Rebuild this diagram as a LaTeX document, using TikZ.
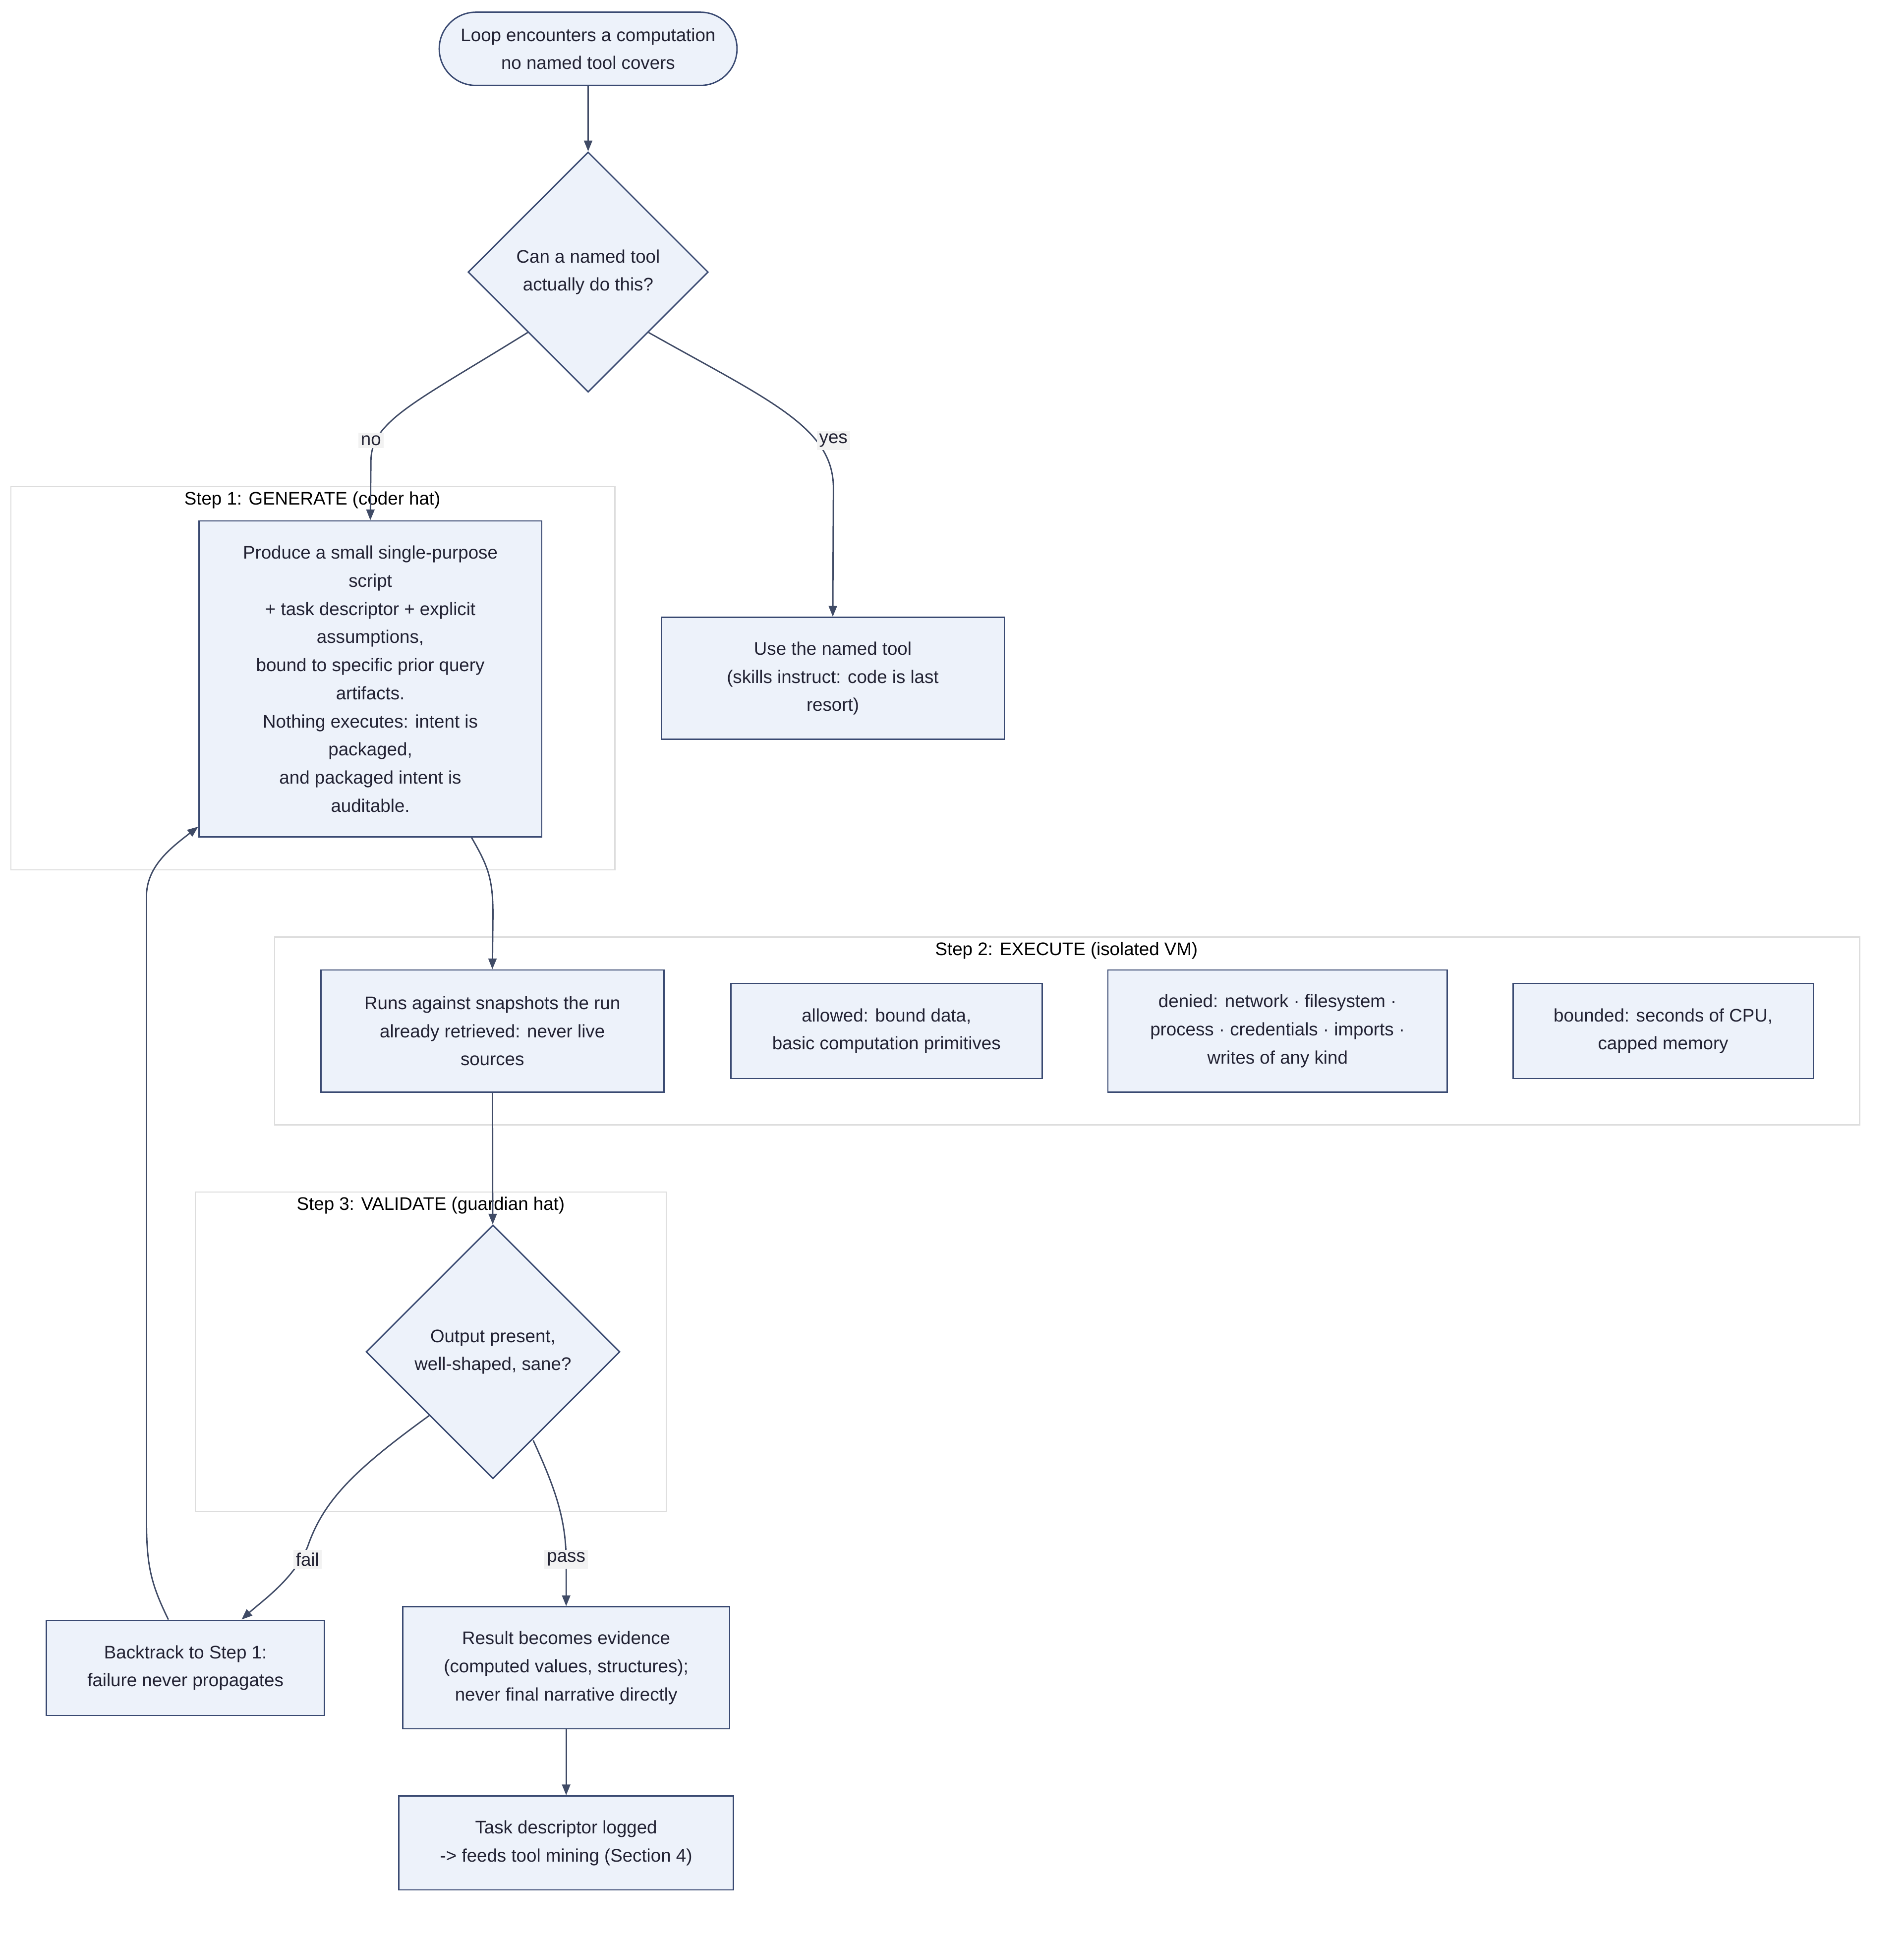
\documentclass[tikz,border=0pt]{standalone}
\usepackage{fontspec}
\setmainfont{Liberation Sans}
\usetikzlibrary{shapes.geometric,arrows.meta,calc}
\definecolor{nfill}{HTML}{EDF2FA}
\definecolor{nline}{HTML}{3A4A72}
\definecolor{eline}{HTML}{404B66}
\definecolor{cline}{HTML}{DDDDDD}
\definecolor{lbg}{HTML}{F2F2F2}
\definecolor{ntext}{HTML}{222233}
\begin{document}
\begin{tikzpicture}[x=0.025cm,y=-0.025cm,
  every node/.style={font=\fontsize{10.6pt}{16.4pt}\selectfont, text=ntext},
  box/.style={draw=nline, fill=nfill, line width=0.8pt, align=center, inner sep=0pt},
  dia/.style={diamond, draw=nline, fill=nfill, line width=0.8pt, align=center, inner sep=0pt, aspect=1},
  clus/.style={draw=cline, fill=white, line width=0.7pt},
  clab/.style={text=black},
  edge/.style={draw=eline, line width=0.8pt, -{Triangle[length=0.22cm,width=0.17cm]}},
  elab/.style={fill=lbg, inner sep=1.5pt, text=ntext}]
\useasboundingbox (0,0) rectangle (1560,1586);
\fill[white] (0,0) rectangle (1560,1586);
% clusters
\draw[clus] (9,399) rectangle (504,713);
\node[clab] (c1) at (256,410) {Step 1: GENERATE (coder hat)};
\draw[clus] (225,768) rectangle (1524,922);
\node[clab] (c2) at (874,779) {Step 2: EXECUTE (isolated VM)};
\draw[clus] (160,977) rectangle (546,1239);
\node[clab] (c3) at (353,988) {Step 3: VALIDATE (guardian hat)};
% nodes
\node[box, rounded corners=0.75cm, minimum width=6.1cm, minimum height=1.5cm] (start) at (482,40) {Loop encounters a computation\\no named tool covers};
\node[dia, minimum width=4.92cm, minimum height=4.92cm] (d1) at (482,223) {Can a named tool\\actually do this?};
\node[box, minimum width=7.025cm, minimum height=6.475cm] (gen) at (303.5,556.5) {Produce a small single-purpose\\script\\+ task descriptor + explicit\\assumptions,\\bound to specific prior query\\artifacts.\\Nothing executes: intent is\\packaged,\\and packaged intent is\\auditable.};
\node[box, minimum width=7.025cm, minimum height=2.5cm] (use) at (682.5,556) {Use the named tool\\(skills instruct: code is last\\resort)};
\node[box, minimum width=7.025cm, minimum height=2.5cm] (run) at (403.5,845) {Runs against snapshots the run\\already retrieved: never live\\sources};
\node[box, minimum width=6.375cm, minimum height=1.95cm] (allowed) at (726.5,845) {allowed: bound data,\\basic computation primitives};
\node[box, minimum width=6.95cm, minimum height=2.5cm] (denied) at (1047,845) {denied: network · filesystem ·\\process · credentials · imports ·\\writes of any kind};
\node[box, minimum width=6.15cm, minimum height=1.95cm] (bounded) at (1363,845) {bounded: seconds of CPU,\\capped memory};
\node[dia, minimum width=5.2cm, minimum height=5.2cm] (d2) at (404,1108) {Output present,\\well-shaped, sane?};
\node[box, minimum width=5.7cm, minimum height=1.95cm] (back) at (152,1367) {Backtrack to Step 1:\\failure never propagates};
\node[box, minimum width=6.7cm, minimum height=2.5cm] (result) at (464,1367) {Result becomes evidence\\(computed values, structures);\\never final narrative directly};
\node[box, minimum width=6.85cm, minimum height=1.925cm] (task) at (464,1510.5) {Task descriptor logged\\-> feeds tool mining (Section 4)};
% edges
\draw[edge] (start) -- (d1);
\draw[edge] (d1.south west) .. controls (340,330) and (304,345) .. (304,378) -- (gen.north);
\node[elab] (lno) at (304,361) {no};
\draw[edge] (d1.south east) .. controls (630,328) and (683,350) .. (683,400) -- (use.north);
\node[elab] (lyes) at (683,361) {yes};
\draw[edge] ($(gen.south)+(83,0)$) .. controls (400,710) and (404,720) .. (404,750) -- (run.north);
\draw[edge] (run) -- (d2);
\draw[edge] (d2.south west) .. controls (290,1205) and (265,1230) .. (252,1268) .. controls (240,1295) and (215,1312) .. ($(back.north)+(46,0)$);
\node[elab] (lfail) at (252,1278) {fail};
\draw[edge] ($(d2.south)+(33,-32)$) .. controls (455,1220) and (464,1245) .. (464,1280) -- (result.north);
\node[elab] (lpass) at (464,1278) {pass};
\draw[edge] (result) -- (task);
\draw[edge] ($(back.north)+(-14,0)$) .. controls (122,1295) and (120,1280) .. (120,1240) -- (120,735) .. controls (120,710) and (140,695) .. ($(gen.south west)+(0,-9)$);
\end{tikzpicture}
\end{document}
